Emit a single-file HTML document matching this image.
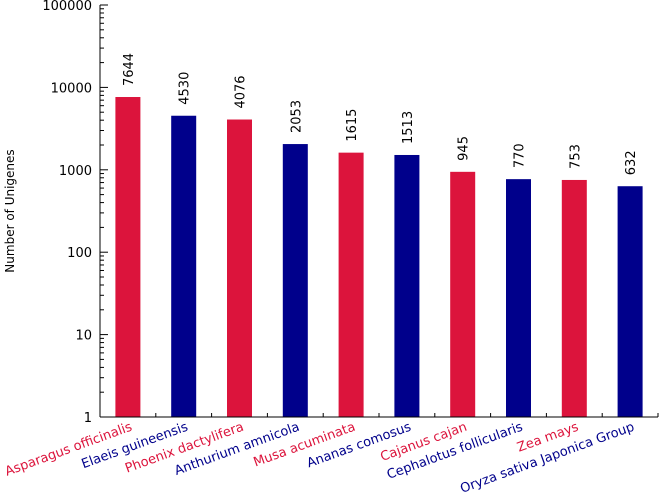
<!DOCTYPE html>
<html><head><meta charset="utf-8"><style>
body{margin:0;background:#fff}
svg{display:block;font-family:"DejaVu Sans","Liberation Sans",sans-serif}
</style></head><body>
<svg id="chart" width="659" height="497" viewBox="0 0 659 497"></svg>
<script>
const categories=["Asparagus officinalis","Elaeis guineensis","Phoenix dactylifera","Anthurium amnicola","Musa acuminata","Ananas comosus","Cajanus cajan","Cephalotus follicularis","Zea mays","Oryza sativa Japonica Group"];
const values=[7644,4530,4076,2053,1615,1513,945,770,753,632];
const yTicks=[1,10,100,1000,10000,100000];
const yTickLabels=["1","10","100","1000","10000","100000"];
const colors=["#dc143c","#00008b"];
const svg=document.getElementById('chart');
const NS="http://www.w3.org/2000/svg";
const x0=100,x1=658,yTop=5,yBot=417;
const bw=(x1-x0)/categories.length;
function y(v){return yBot-(Math.log10(v)-0)/(5-0)*(yBot-yTop);}
function xc(i){return x0+bw*(i+0.5);}
function mk(t,a){const e=document.createElementNS(NS,t);for(const k in a)e.setAttribute(k,a[k]);svg.appendChild(e);return e;}
categories.forEach((c,i)=>{
  const r=mk('rect',{x:xc(i)-12.5,y:y(values[i]),width:25,height:yBot-y(values[i]),fill:colors[i%2]});
  
  
  const vx=xc(i)+5,vy=y(values[i])-11;
  const t=mk('text',{x:vx,y:vy,transform:`rotate(-90 ${vx} ${vy})`,'font-size':13,fill:'#000'});
  t.textContent=values[i];
  
  
  const lx=xc(i)+5,ly=430;
  const l=mk('text',{x:lx,y:ly,transform:`rotate(-20 ${lx} ${ly})`,'text-anchor':'end','font-size':13,fill:colors[i%2]});
  l.textContent=c;
  
  
});
const ya=mk('line',{x1:x0,y1:yTop,x2:x0,y2:yBot,stroke:'#000','stroke-width':1});


const xa=mk('line',{x1:x0,y1:yBot,x2:x1,y2:yBot,stroke:'#000','stroke-width':1});


for(let i=1;i<=categories.length;i++){const tx=x0+bw*i;mk('line',{x1:tx,y1:yBot,x2:tx,y2:yBot-4,stroke:'#000'});}
yTicks.forEach((v,i)=>{
  mk('line',{x1:x0,y1:y(v),x2:x0+8,y2:y(v),stroke:'#000'});
  const t=mk('text',{x:x0-8,y:y(v)+5,'text-anchor':'end','font-size':13,fill:'#000'});
  t.textContent=yTickLabels[i];
  
  
  if(i<yTicks.length-1)for(let m=2;m<10;m++)mk('line',{x1:x0,y1:y(v*m),x2:x0+4,y2:y(v*m),stroke:'#000'});
});
const yt=mk('text',{x:14,y:211,transform:'rotate(-90 14 211)','text-anchor':'middle','font-size':12,fill:'#000'});
yt.textContent="Number of Unigenes";


</script>
</body></html>
